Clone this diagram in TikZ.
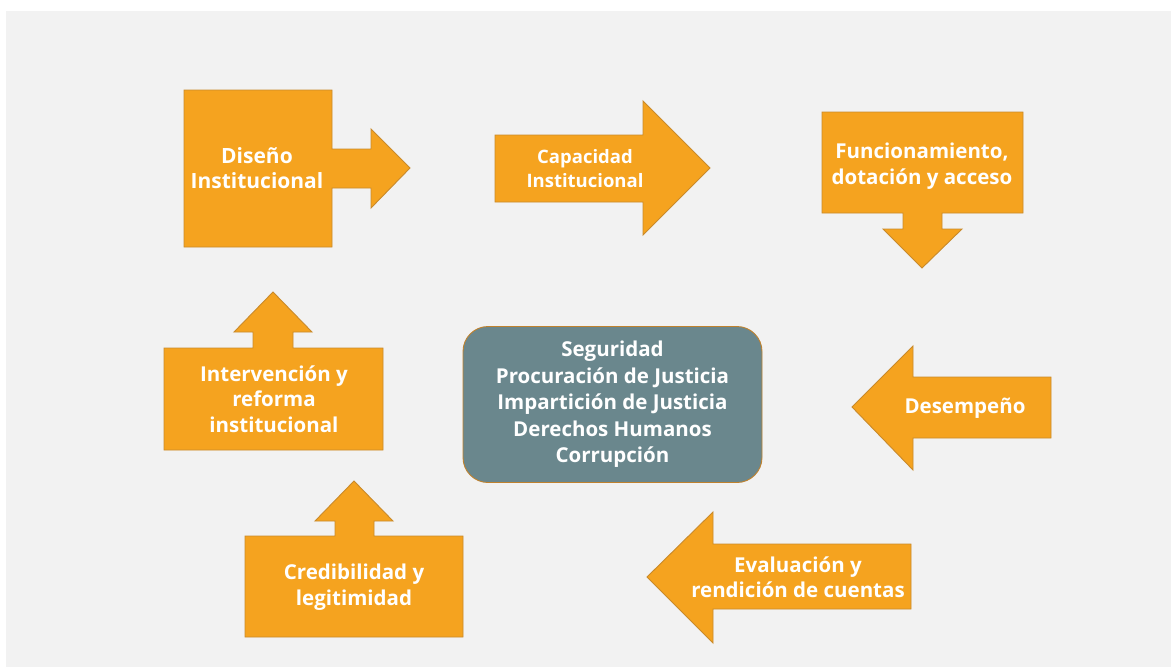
\documentclass[tikz,border=0pt]{standalone}
\usepackage{fontspec}
\setmainfont{Open Sans}
\usetikzlibrary{positioning}
\definecolor{bgGray}{HTML}{F2F2F2}
\definecolor{boxOrange}{HTML}{F5A31F}
\definecolor{boxEdge}{HTML}{C98A2B}
\definecolor{coreTeal}{HTML}{6A878D}
\definecolor{coreEdge}{HTML}{C0822E}
\begin{document}
\begin{tikzpicture}[
        x=1pt, y=-1pt,
        blockshape/.style={fill=boxOrange, draw=boxEdge, line width=0.9pt, line join=miter},
        blocktext/.style={text=white, align=center, inner sep=0pt, font=\bfseries\fontsize{20.5}{25.5}\selectfont},
        corebox/.style={fill=coreTeal, draw=coreEdge, line width=0.9pt, rounded corners=25pt,
                        minimum width=299pt, minimum height=156pt, text=white, align=center,
                        font=\bfseries\fontsize{20.5}{26.5}\selectfont}
        ]

    % Background
    \useasboundingbox (0,0) rectangle (1171,667);
    \fill[bgGray] (6,11) rectangle (1171,667);

    % Shapes
    \draw[blockshape] (184,90) -- (332,90) -- (332,149) -- (371,149) -- (371,129) -- (410,168)
        -- (371,208) -- (371,188) -- (332,188) -- (332,247) -- (184,247) -- cycle;
    \draw[blockshape] (495,135) -- (643,135) -- (643,101) -- (710,168) -- (643,235) -- (643,202)
        -- (495,202) -- cycle;
    \draw[blockshape] (822,112) -- (1023,112) -- (1023,213) -- (942,213) -- (942,229) -- (962,229)
        -- (922,268) -- (883,229) -- (903,229) -- (903,213) -- (822,213) -- cycle;
    \draw[blockshape] (1051,377) -- (913,377) -- (913,346) -- (852,407) -- (913,470) -- (913,438)
        -- (1051,438) -- cycle;
    \draw[blockshape] (911,544) -- (713,544) -- (713,512) -- (647,577) -- (713,643) -- (713,609)
        -- (911,609) -- cycle;
    \draw[blockshape] (245,536) -- (335,536) -- (335,521) -- (315,521) -- (354,481) -- (393,521)
        -- (374,521) -- (374,536) -- (463,536) -- (463,637) -- (245,637) -- cycle;
    \draw[blockshape] (164,348) -- (253,348) -- (253,332) -- (234,332) -- (273,292) -- (312,332)
        -- (293,332) -- (293,348) -- (383,348) -- (383,450) -- (164,450) -- cycle;

    % Texts
    \node (diseno) [blocktext, font=\bfseries\fontsize{21}{25.5}\selectfont] at (257,168) {Diseño\\Institucional};
    \node (capacidad) [blocktext, font=\bfseries\fontsize{18.5}{24}\selectfont] at (585,169) {Capacidad\\Institucional};
    \node (funcionamiento) [blocktext] at (922,166) {Funcionamiento,\\dotación y acceso};
    \node (desempeno) [blocktext] at (965,408) {Desempeño};
    \node (evaluacion) [blocktext] at (798,577) {Evaluación y\\rendición de cuentas};
    \node (credibilidad) [blocktext] at (354,587) {Credibilidad y\\legitimidad};
    \node (intervencion) [blocktext] at (274,399) {Intervención y\\reforma\\institucional};

    % Centre
    \node (core) [corebox] at (612.5,404.5) {Seguridad\\Procuración de Justicia\\Impartición de Justicia\\Derechos Humanos\\Corrupción};

\end{tikzpicture}
\end{document}
